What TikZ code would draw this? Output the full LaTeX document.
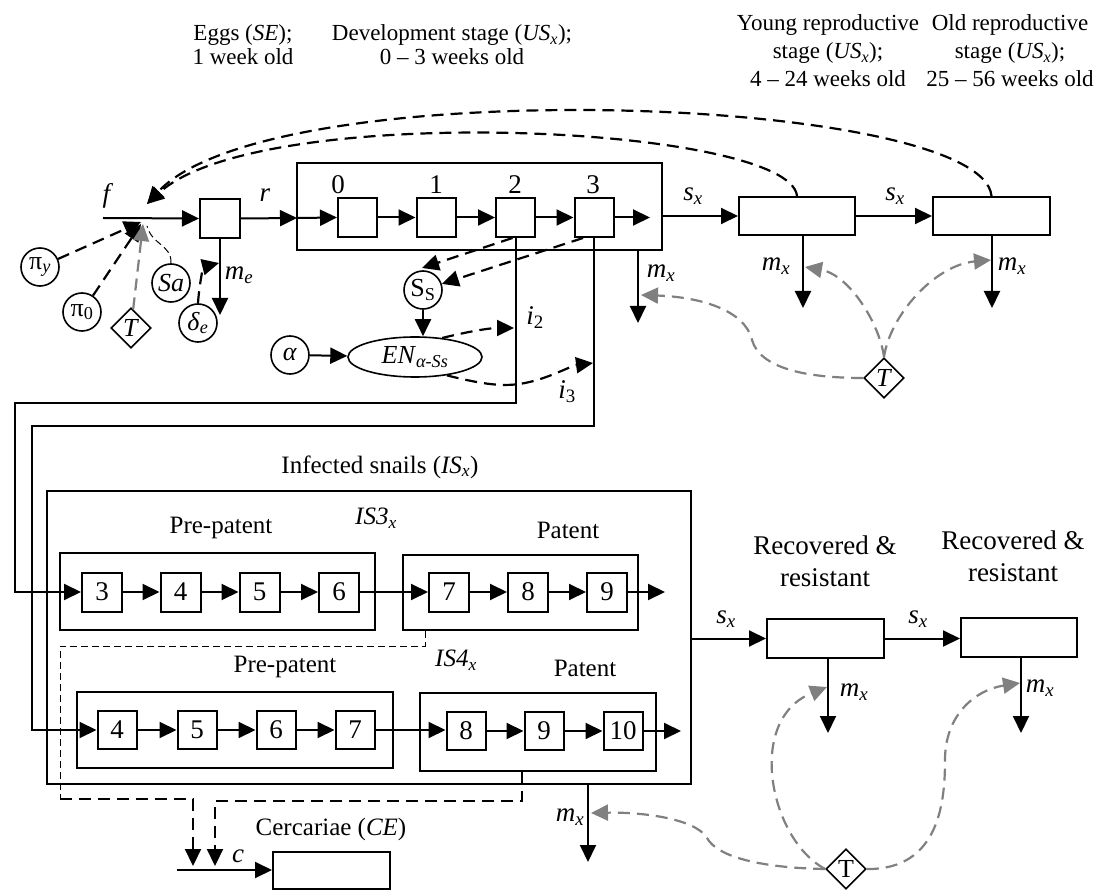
\documentclass[tikz,border=0pt]{standalone}
\usepackage{fontspec}
\setmainfont{Liberation Serif}
\usetikzlibrary{arrows.meta,shapes.geometric,calc}
\definecolor{tgray}{RGB}{128,128,128}
\newcommand{\msub}[1]{\textsubscript{#1}}
\begin{document}
\begin{tikzpicture}[x=1pt,y=-1pt,
 every node/.style={font=\fontsize{25}{30}\selectfont, inner sep=0pt},
 ml/.style={font=\fontsize{27}{30}\selectfont},
 arr/.style={line width=2pt,-{Triangle[length=17pt,width=16pt]}},
 tip/.style={-{Triangle[length=17pt,width=16pt]}},
 sbox/.style={draw,line width=2pt,minimum width=39pt,minimum height=39pt,font=\fontsize{27}{30}\selectfont},
 bbox/.style={draw,line width=2pt},
 circ/.style={draw,circle,line width=1.6pt,minimum size=38pt,font=\fontsize{26}{30}\selectfont},
 dia/.style={draw,diamond,line width=1.6pt,minimum size=40pt,font=\fontsize{26}{30}\selectfont},
 dsh/.style={line width=2.2pt,dash pattern=on 12pt off 7pt},
 gdsh/.style={line width=2.2pt,draw=tgray,dash pattern=on 12pt off 7pt},
 tdsh/.style={line width=1pt,dash pattern=on 7pt off 4pt},
 toplab/.style={align=center,font=\fontsize{23}{24}\selectfont},
 toplab3/.style={align=center,font=\fontsize{23}{28}\selectfont},
 reclab/.style={align=center,font=\fontsize{27}{32}\selectfont}]
\useasboundingbox (0,0) rectangle (1101,890);

% ---------- top labels
\node[toplab] (lab1) at (243,45) {Eggs (\textit{SE});\\1 week old};
\node[toplab] (lab2) at (452,45) {Development stage (\textit{US}\msub{\textit{x}});\\0 -- 3 weeks old};
\node[toplab3] (lab3) at (828,51) {Young reproductive\\stage (\textit{US}\msub{\textit{x}});\\4 -- 24 weeks old};
\node[toplab3] (lab4) at (1010,51) {Old reproductive\\stage (\textit{US}\msub{\textit{x}});\\25 -- 56 weeks old};

% ---------- egg stage
\coordinate (fs) at (103,218);
\coordinate (J) at (145,218);
\node[sbox,minimum width=40pt] (egg) at (220,218.5) {};
\draw[arr] (fs) -- (egg.west);
\node[ml] (flab) at (108,196) {\textit{f}};
\node[ml] (rlab) at (265,195) {\textit{r}};

% ---------- development box
\node[bbox,minimum width=365pt,minimum height=87pt] (dev) at (479.5,206.5) {};
\node[sbox] (d0) at (357.5,217.5) {};
\node[sbox] (d1) at (436,217.5) {};
\node[sbox] (d2) at (515.5,217.5) {};
\node[sbox] (d3) at (594,217.5) {};
\node[ml] (n0) at (338,185) {0};
\node[ml] (n1) at (436,185) {1};
\node[ml] (n2) at (515,185) {2};
\node[ml] (n3) at (593,185) {3};
\coordinate (devin) at (297,218);
\draw[arr] (egg.east) -- (devin);
\draw[arr] (devin) -- (d0.west);
\draw[arr] (d0) -- (d1);
\draw[arr] (d1) -- (d2);
\draw[arr] (d2) -- (d3);
\coordinate (d3out) at (650,217.5);
\draw[arr] (d3.east) -- (d3out);

% ---------- young / old
\node[bbox,minimum width=116pt,minimum height=38pt] (young) at (797,216) {};
\node[bbox,minimum width=117pt,minimum height=38pt] (old) at (991.5,216) {};
\draw[arr] (dev.east |- young.west) -- (young.west);
\draw[arr] (young.east) -- (old.west);
\node[ml] (sx1) at (693,196) {\textit{s}\msub{\textit{x}}};
\node[ml] (sx2) at (895,196) {\textit{s}\msub{\textit{x}}};

\coordinate (dm) at (638,323);
\draw[arr] (dm |- dev.south) -- (dm);
\node[ml] (mx1) at (661,273) {\textit{m}\msub{\textit{x}}};
\coordinate (ym) at (803,308);
\draw[arr] (ym |- young.south) -- (ym);
\node[ml] (mx2) at (776,266) {\textit{m}\msub{\textit{x}}};
\coordinate (om) at (992,308);
\draw[arr] (om |- old.south) -- (om);
\node[ml] (mx3) at (1012,266) {\textit{m}\msub{\textit{x}}};

% ---------- top feedback curves
\coordinate (Jtop) at (147,204);
\draw[dsh,tip] (old.north) .. controls (982,95) and (270,70) .. (Jtop);
\draw[dsh,tip] (young.north) .. controls (790,125) and (260,100) .. (Jtop);

% ---------- inputs to f
\node[circ] (piy) at (40,267) {π\msub{\textit{y}}};
\node[circ] (pi0) at (82,312) {π\msub{0}};
\node[dia] (T1) at (131,328) {\textit{T}};
\node[circ] (Sa) at (171,283) {\textit{Sa}};
\node[circ] (de) at (198,323) {\textit{δ}\msub{\textit{e}}};
\coordinate (Jy) at (141,222);
\coordinate (J0) at (141,224);
\coordinate (JT) at (143,224);
\coordinate (JS) at (147,226);
\draw[dsh,tip] (piy) -- (Jy);
\draw[dsh,tip] (pi0) -- (J0);
\draw[gdsh,tip] (T1) -- (JT);
\draw[tdsh] (Sa.north) .. controls (172,245) and (152,245) .. (JS);

\coordinate (me) at (220,315);
\draw[arr] (egg.south) -- (me);
\node[ml] (melab) at (239,275) {\textit{m}\msub{\textit{e}}};
\coordinate (deT) at (219,263);
\draw[dsh,tip] (de.north) .. controls (199,287) and (203,267) .. (deT);

% ---------- S_S, alpha, EN
\node[circ] (SS) at (423,290) {S\msub{S}};
\node[circ] (al) at (290,355) {\textit{α}};
\node[draw,ellipse,line width=1.6pt,minimum width=134pt,minimum height=40pt,font=\fontsize{26}{30}\selectfont] (EN) at (415,357) {\textit{EN}\msub{\textit{α-Ss}}};
\coordinate (SSt) at (422,268);
\draw[dsh,tip] ($(d2.south)+(-3,0)$) -- (SSt);
\draw[dsh,tip] ($(d3.south)+(-11,0)$) -- (SS);
\draw[arr] (SS.south) -- (SS.south |- EN.north);
\draw[arr] (al) -- (EN);
\coordinate (i2t) at (514,328);
\coordinate (i3t) at (593,363);
\draw[dsh,tip] (EN.35) .. controls (475,330) and (492,328) .. (i2t);
\draw[dsh,tip] (EN.-30) .. controls (485,385) and (505,387) .. (525,383) .. controls (550,378) and (570,366) .. (i3t);
\node[ml] (i2) at (535,318) {\textit{i}\msub{2}};
\node[ml] (i3) at (567,392) {\textit{i}\msub{3}};

% ---------- infected snails
\node (islab) at (380,467) {Infected snails (\textit{IS}\msub{\textit{x}})};
\node[bbox,minimum width=644pt,minimum height=293pt] (IS) at (369,637.5) {};
\node[bbox,minimum width=315pt,minimum height=77pt] (IS3pre) at (217.5,591.5) {};
\node[bbox,minimum width=235pt,minimum height=75pt] (IS3pat) at (520.5,592.5) {};
\node (pp1) at (221,528) {Pre-patent};
\node (pt1) at (568,530) {Patent};
\node (is3lab) at (376,518) {\textit{IS3}\msub{\textit{x}}};
\node[sbox,minimum width=40pt] (a3) at (102,592) {3};
\node[sbox,minimum width=40pt] (a4) at (180.5,592) {4};
\node[sbox,minimum width=40pt] (a5) at (259.5,592) {5};
\node[sbox,minimum width=40pt] (a6) at (339,592) {6};
\node[sbox,minimum width=40pt] (a7) at (449,592) {7};
\node[sbox,minimum width=40pt] (a8) at (528,592) {8};
\node[sbox,minimum width=40pt] (a9) at (607,592) {9};
\draw[arr] (a3) -- (a4);
\draw[arr] (a4) -- (a5);
\draw[arr] (a5) -- (a6);
\draw[arr] (a6) -- (a7);
\draw[arr] (a7) -- (a8);
\draw[arr] (a8) -- (a9);
\coordinate (a9out) at (665,592);
\draw[arr] (a9.east) -- (a9out);

\node[bbox,minimum width=316pt,minimum height=76pt] (IS4pre) at (235,730) {};
\node[bbox,minimum width=236pt,minimum height=78pt] (IS4pat) at (538,732) {};
\node (pp2) at (285,667) {Pre-patent};
\node (pt2) at (585,668) {Patent};
\node (is4lab) at (456,660) {\textit{IS4}\msub{\textit{x}}};
\node[sbox,minimum height=38pt] (b4) at (117,730) {4};
\node[sbox,minimum height=38pt] (b5) at (197,730) {5};
\node[sbox,minimum height=38pt] (b6) at (276,730) {6};
\node[sbox,minimum height=38pt] (b7) at (355,730) {7};
\node[sbox,minimum height=38pt] (b8) at (466,731) {8};
\node[sbox,minimum height=38pt] (b9) at (544,731) {9};
\node[sbox,minimum height=38pt] (b10) at (623,731) {10};
\draw[arr] (b4) -- (b5);
\draw[arr] (b5) -- (b6);
\draw[arr] (b6) -- (b7);
\draw[arr] (b7.east) -- (b8.west |- b7.east);
\draw[arr] (b8) -- (b9);
\draw[arr] (b9) -- (b10);
\coordinate (b10out) at (681,731);
\draw[arr] (b10.east) -- (b10out);

% ---------- infection lines
\coordinate (L1) at (15,403);
\coordinate (L2) at (32,426);
\draw[arr] (d2.south) |- (L1) |- (a3.west);
\draw[arr] (d3.south) |- (L2) |- (b4.west);

% ---------- cercariae
\coordinate (q0) at (425,646);
\coordinate (q1) at (60,646);
\coordinate (q2) at (60,799);
\coordinate (q3) at (193,799);
\coordinate (q4) at (193,866);
\coordinate (q5) at (522,801);
\coordinate (q6) at (215,801);
\coordinate (q7) at (215,866);
\draw[tdsh] (q0 |- IS3pat.south) -- (q0) -- (q1) -- (q2);
\draw[dsh,tip] (q2) -- (q3) -- (q4);
\draw[dsh,tip] (q5 |- IS4pat.south) -- (q5) -- (q6) -- (q7);
\node[bbox,minimum width=117pt,minimum height=37pt] (cbox) at (331.5,870) {};
\coordinate (cst) at (177,870);
\draw[arr] (cst) -- (cbox.west);
\node[ml] (clab) at (238,856) {\textit{c}};
\node (celab) at (331,829) {Cercariae (\textit{CE})};

% ---------- IS mortality
\coordinate (ism) at (588,862);
\draw[arr] (ism |- IS.south) -- (ism);
\node[ml] (mx4) at (570,817) {\textit{m}\msub{\textit{x}}};

% ---------- recovered
\node[bbox,minimum width=117pt,minimum height=39pt] (rec1) at (825.5,638.5) {};
\node[bbox,minimum width=116pt,minimum height=39pt] (rec2) at (1019,637.5) {};
\node[reclab] (rl1) at (825,561) {Recovered \&\\resistant};
\node[reclab] (rl2) at (1013,556) {Recovered \&\\resistant};
\draw[arr] (IS.east |- rec1.west) -- (rec1.west);
\draw[arr] (rec1.east) -- (rec2.west |- rec1.east);
\node[ml] (sx3) at (726,619) {\textit{s}\msub{\textit{x}}};
\node[ml] (sx4) at (918,619) {\textit{s}\msub{\textit{x}}};
\coordinate (r1m) at (828,733);
\draw[arr] (r1m |- rec1.south) -- (r1m);
\node[ml] (mx5) at (854,692) {\textit{m}\msub{\textit{x}}};
\coordinate (r2m) at (1021,733);
\draw[arr] (r2m |- rec2.south) -- (r2m);
\node[ml] (mx6) at (1040,688) {\textit{m}\msub{\textit{x}}};

% ---------- treatment T (top)
\node[dia] (T2) at (884,378) {\textit{T}};
\coordinate (g1) at (641,295);
\coordinate (g2) at (805,267);
\coordinate (g3) at (991,260);
\draw[gdsh,tip] (T2.west) .. controls (805,378) and (760,368) .. (752,340) .. controls (745,310) and (700,297) .. (g1);
\draw[gdsh,tip] (T2.north) .. controls (880,325) and (850,275) .. (g2);
\draw[gdsh,tip] (T2.north) .. controls (890,315) and (935,265) .. (g3);

% ---------- treatment T (bottom)
\node[dia] (T3) at (846,869) {T};
\coordinate (g4) at (591,813);
\coordinate (g5) at (827,687);
\coordinate (g6) at (1020,683);
\draw[gdsh,tip] (T3.west) .. controls (765,868) and (718,858) .. (707,838) .. controls (695,818) and (640,812) .. (g4);
\draw[gdsh,tip] (T3.west) .. controls (770,840) and (745,720) .. (g5);
\draw[gdsh,tip] (T3.east) .. controls (940,870) and (945,800) .. (945,760) .. controls (945,715) and (975,690) .. (g6);
\end{tikzpicture}
\end{document}
